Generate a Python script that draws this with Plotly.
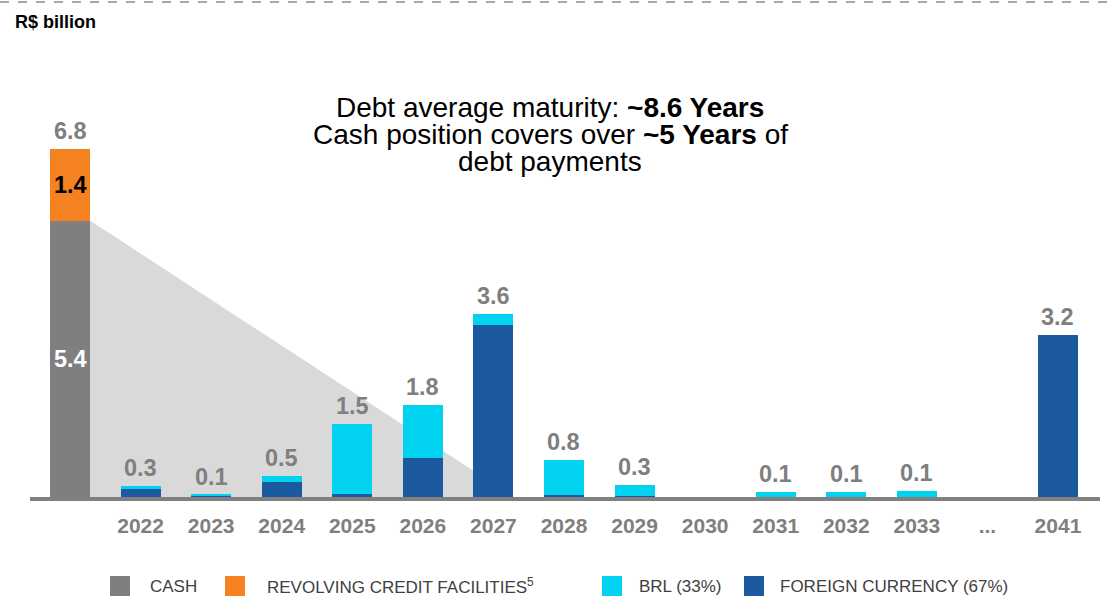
import plotly.graph_objects as go

categories = ["", "2022", "2023", "2024", "2025", "2026", "2027", "2028",
              "2029", "2030", "2031", "2032", "2033", "...", "2041"]
cash = [5.4] + [None] * 14
rcf = [1.4] + [None] * 14
foreign = [None, 0.16, 0.03, 0.30, 0.06, 0.76, 3.35, 0.03, 0.02, None, None, None, None, None, 3.17]
brl = [None, 0.06, 0.01, 0.12, 1.37, 1.03, 0.22, 0.70, 0.21, None, 0.09, 0.09, 0.11, None, None]
total_labels = ["6.8", "0.3", "0.1", "0.5", "1.5", "1.8", "3.6", "0.8", "0.3", "", "0.1", "0.1", "0.1", "", "3.2"]
coverage_end = "2027"
headline = ["Debt average maturity: <b>~8.6 Years</b>",
            "Cash position covers over <b>~5 Years</b> of",
            "debt payments"]

C_CASH = "#7F7F7F"
C_RCF = "#F58220"
C_BRL = "#00D2F0"
C_FX = "#1B5A9E"
C_TRI = "#D9D9D9"
FONT = "Liberation Sans, Arial, sans-serif"

xs = list(range(len(categories)))
BW = 0.567
STEP = 70.57  # px per category

fig = go.Figure()
fig.add_trace(go.Bar(x=xs, y=cash, name="CASH", marker=dict(color=C_CASH, line=dict(width=0)), width=BW))
fig.add_trace(go.Bar(x=xs, y=rcf, name="REVOLVING CREDIT FACILITIES", marker=dict(color=C_RCF, line=dict(width=0)), width=BW))
fig.add_trace(go.Bar(x=xs, y=foreign, name="FOREIGN CURRENCY (67%)", marker=dict(color=C_FX, line=dict(width=0)), width=BW))
fig.add_trace(go.Bar(x=xs, y=brl, name="BRL (33%)", marker=dict(color=C_BRL, line=dict(width=0)), width=BW))

# coverage triangle from top of cash bar to the end of the coverage period
x0 = xs[0] + BW / 2
x1 = categories.index(coverage_end) + BW / 2
fig.add_shape(type="path", xref="x", yref="y", layer="below",
              path=f"M {x0},{cash[0]} L {x1},0 L {x0},0 Z",
              fillcolor=C_TRI, line=dict(width=0))

# totals above bars
for i, lab in enumerate(total_labels):
    if not lab:
        continue
    tot = sum(v for v in (cash[i], rcf[i], foreign[i], brl[i]) if v)
    fig.add_annotation(x=xs[i], y=tot, text=f"<b>{lab}</b>", showarrow=False,
                       yanchor="bottom", yshift=3,
                       font=dict(family=FONT, size=23.5, color=C_CASH))

# inner labels of cash column
fig.add_annotation(x=xs[0], y=cash[0] / 2, text=f"<b>{cash[0]}</b>", showarrow=False,
                   yanchor="middle", font=dict(family=FONT, size=23.5, color="white"))
fig.add_annotation(x=xs[0], y=cash[0] + rcf[0] / 2, text=f"<b>{rcf[0]}</b>", showarrow=False,
                   yanchor="middle", font=dict(family=FONT, size=23.5, color="black"))

# layout geometry (pixels)
W, H = 1112, 596
ML, MR, MT, MB = 30, 12, 40, 99
PW, PH = W - ML - MR, H - MT - MB


def px(x):
    return (x - ML) / PW


def py(y):
    return (H - MB - y) / PH


# headline (one annotation per line for tight line spacing)
for k, line in enumerate(headline):
    fig.add_annotation(xref="paper", yref="paper", x=px(550), y=py(108 + 26.5 * k),
                       xanchor="center", yanchor="middle", showarrow=False, text=line,
                       font=dict(family=FONT, size=28, color="black"))

# unit label
fig.add_annotation(xref="paper", yref="paper", x=px(13), y=py(22), xanchor="left", yanchor="middle",
                   showarrow=False, text="<b>R$ billion</b>",
                   font=dict(family=FONT, size=18, color="black"))

# top dashed separator
fig.add_shape(type="line", xref="paper", yref="paper", x0=px(0), x1=px(W), y0=py(2), y1=py(2),
              line=dict(color="#8C8C8C", width=1.5, dash="dash"))

# manual legend
legend_items = [("CASH", C_CASH, 110, 148),
                ("REVOLVING CREDIT FACILITIES<sup>5</sup>", C_RCF, 225, 265),
                ("BRL (33%)", C_BRL, 602, 637),
                ("FOREIGN CURRENCY (67%)", C_FX, 744, 778)]
for text, col, sx, tx in legend_items:
    fig.add_shape(type="rect", xref="paper", yref="paper",
                  x0=px(sx), x1=px(sx + 20), y0=py(596), y1=py(576),
                  fillcolor=col, line=dict(width=0))
    fig.add_annotation(xref="paper", yref="paper", x=px(tx), y=py(586), xanchor="left",
                       yanchor="middle", showarrow=False, text=text,
                       font=dict(family=FONT, size=17, color="#404040"))

fig.update_layout(
    width=W, height=H, barmode="stack", showlegend=False,
    margin=dict(l=ML, r=MR, t=MT, b=MB),
    paper_bgcolor="white", plot_bgcolor="white",
    xaxis=dict(range=[-40 / STEP, (PW - 40) / STEP],
               tickvals=xs[1:], ticktext=[f"<b>{c}</b>" for c in categories[1:]],
               tickfont=dict(family=FONT, size=21, color=C_CASH),
               showline=True, linecolor="#808080", linewidth=4,
               showgrid=False, zeroline=False, ticks="", ticklabelstandoff=7),
    yaxis=dict(range=[0, PH / 51.2], visible=False, showgrid=False, zeroline=False),
)

fig.write_html("out.html")
